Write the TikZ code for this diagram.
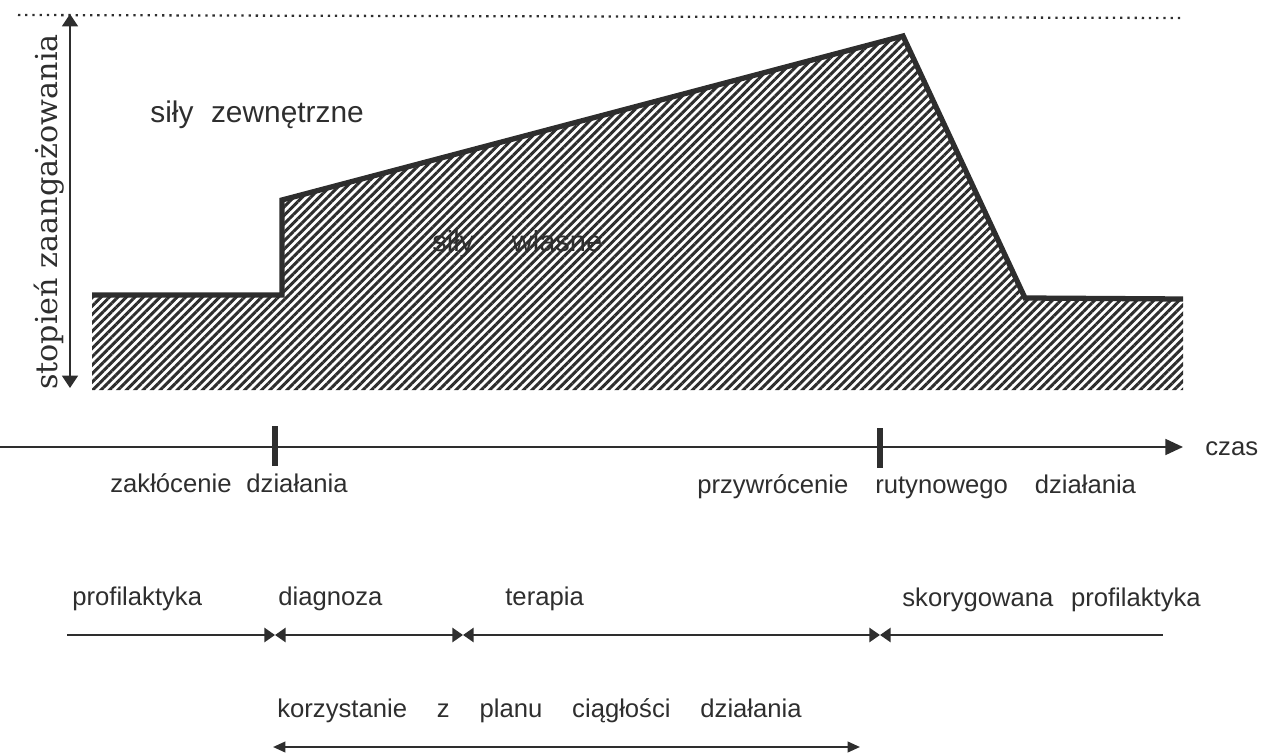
\documentclass[tikz,border=0pt]{standalone}
\usepackage{fontspec}
\setmainfont{Liberation Sans}
\newfontfamily\axisfont{DejaVu Serif}
\usetikzlibrary{arrows.meta, patterns.meta}
\definecolor{ink}{HTML}{2E2E2E}

\begin{document}
\begin{tikzpicture}[
    x=0.02cm, y=-0.02cm,
    every node/.style={inner sep=0pt, text=ink},
    lbl/.style={anchor=base west, font=\fontsize{14.6}{17}\selectfont},
    wordgap/.style={execute at begin node={\spaceskip=#1\relax}},
    axis/.style={draw=ink, line width=1.2pt},
    profile/.style={draw=ink, line width=3pt, line join=miter},
    hatch/.style={pattern={Lines[angle=45, distance=3.4pt, line width=1.7pt]}, pattern color=ink},
    tick/.style={draw=ink, line width=3.5pt},
    phase/.style={axis, >={Triangle[length=6pt, width=8pt]}},
  ]
  \useasboundingbox (0,0) rectangle (1261,753);

  % level of engagement
  \coordinate (a) at (92,295);
  \coordinate (b) at (282,295);
  \coordinate (c) at (282,200);
  \coordinate (d) at (903,36);
  \coordinate (e) at (1025,298);
  \coordinate (f) at (1183,299);
  \fill[hatch] (92,390) -- (a) -- (b) -- (c) -- (d) -- (e) -- (f) -- (1183,390) -- cycle;
  \draw[profile] (a) -- (b) -- (c) -- (d) -- (e) -- (f);

  \node[lbl, font=\fontsize{17}{20}\selectfont, wordgap=10pt] (ext) at (150,123) {siły zewnętrzne};
  \node[lbl, font=\fontsize{16.5}{20}\selectfont, wordgap=21.5pt] (own) at (432,252) {siły własne};

  % vertical axis and top limit
  \coordinate (l0) at (18,15);
  \coordinate (l1) at (1183,18);
  \draw[draw=ink, line width=1.3pt, dash pattern=on 1.3pt off 2.8pt] (l0) -- (l1);
  \coordinate (ytop) at (70,14);
  \coordinate (ybot) at (70,388);
  \draw[axis, {Triangle[length=7pt, width=9pt]}-{Triangle[length=7pt, width=9pt]}] (ybot) -- (ytop);
  \node[font=\axisfont\fontsize{17.2}{19}\selectfont, rotate=90, anchor=base] (ylab) at (57,212) {stopień zaangażowania};

  % time axis
  \coordinate (t0) at (0,447);
  \coordinate (t1) at (1183,447);
  \draw[axis, -{Triangle[length=10pt, width=9pt]}] (t0) -- (t1);
  \node[lbl] (czas) at (1205,455) {czas};
  \coordinate (k1a) at (275,426);
  \coordinate (k1b) at (275,466);
  \coordinate (k2a) at (880,428);
  \coordinate (k2b) at (880,468);
  \draw[tick] (k1a) -- (k1b);
  \draw[tick] (k2a) -- (k2b);
  \node[lbl, wordgap=8.5pt] (dist) at (110,492) {zakłócenie działania};
  \node[lbl, wordgap=15.3pt] (rest) at (697,493) {przywrócenie rutynowego działania};

  % phases
  \node[lbl] (prof) at (72,605) {profilaktyka};
  \node[lbl] (diag) at (278,605) {diagnoza};
  \node[lbl] (ther) at (505,605) {terapia};
  \node[lbl, wordgap=10pt] (corr) at (902,606) {skorygowana profilaktyka};
  \coordinate (p0) at (67,635);
  \coordinate (p1) at (275,635);
  \coordinate (p2) at (463,635);
  \coordinate (p3) at (880,635);
  \coordinate (p4) at (1163,635);
  \draw[phase, ->] (p0) -- (p1);
  \draw[phase, <->] (p1) -- (p2);
  \draw[phase, <->] (p2) -- (p3);
  \draw[phase, <-] (p3) -- (p4);

  % continuity plan
  \node[lbl, wordgap=17pt] (plan) at (277,717) {korzystanie z planu ciągłości działania};
  \coordinate (q0) at (273,747);
  \coordinate (q1) at (860,747);
  \draw[axis, {Triangle[length=7pt, width=6pt]}-{Triangle[length=7pt, width=6pt]}] (q0) -- (q1);
\end{tikzpicture}
\end{document}
